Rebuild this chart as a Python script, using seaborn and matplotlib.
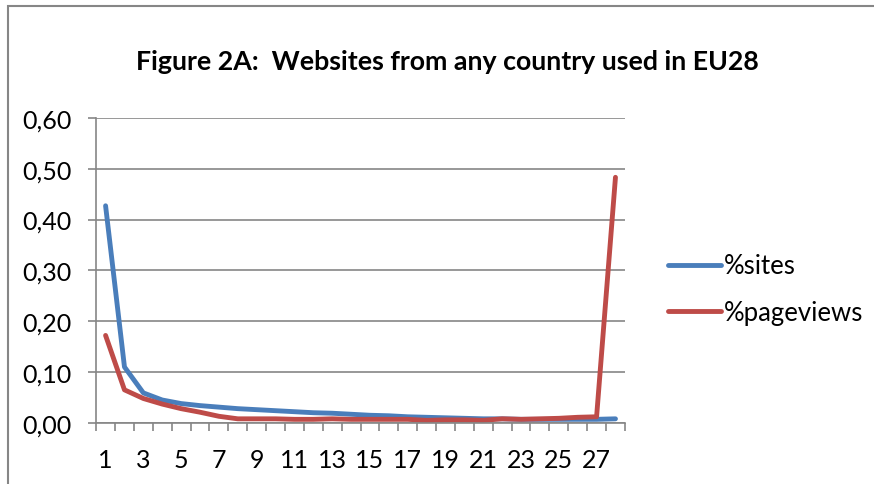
import matplotlib
matplotlib.use("Agg")
import matplotlib.pyplot as plt
import seaborn as sns
import pandas as pd
from matplotlib.patches import Rectangle
from matplotlib.lines import Line2D
from matplotlib.ticker import FuncFormatter

categories = list(range(1, 29))
sites = [0.427, 0.110, 0.059, 0.045, 0.038, 0.034, 0.031, 0.028, 0.026, 0.024,
         0.022, 0.020, 0.019, 0.017, 0.015, 0.014, 0.012, 0.011, 0.010, 0.009,
         0.008, 0.008, 0.007, 0.007, 0.007, 0.007, 0.007, 0.008]
pageviews = [0.172, 0.065, 0.048, 0.037, 0.028, 0.021, 0.013, 0.008, 0.008, 0.008,
             0.007, 0.007, 0.008, 0.007, 0.007, 0.007, 0.007, 0.005, 0.006, 0.006,
             0.005, 0.008, 0.007, 0.008, 0.009, 0.011, 0.012, 0.483]
series_names = ["%sites", "%pageviews"]
title = "Figure 2A:  Websites from any country used in EU28"

df = pd.DataFrame({
    "cat": categories * 2,
    "value": sites + pageviews,
    "series": [series_names[0]] * len(categories) + [series_names[1]] * len(categories),
})

sns.set_theme(style="white")
plt.rcParams["font.family"] = ["Lato", "DejaVu Sans"]
plt.rcParams["text.color"] = "black"
plt.rcParams["xtick.labelcolor"] = "black"
plt.rcParams["ytick.labelcolor"] = "black"

fig = plt.figure(figsize=(8.74, 4.85), dpi=100)
ax = fig.add_axes([0.110, 0.126, 0.605, 0.629])
palette = {series_names[0]: "#4A7EBB", series_names[1]: "#BE4B48"}
lw = 3.5
sns.lineplot(data=df, x="cat", y="value", hue="series", palette=palette, ax=ax,
             linewidth=lw, legend=False, solid_capstyle="round", solid_joinstyle="round")

ax.set_xlim(0.5, 28.5)
ax.set_ylim(0, 0.6)
ax.set_yticks([0, 0.1, 0.2, 0.3, 0.4, 0.5, 0.6])
ax.yaxis.set_major_formatter(FuncFormatter(lambda v, p: f"{v:.2f}".replace(".", ",")))
ax.set_xticks(categories[::2])
ax.set_xticklabels([str(c) for c in categories[::2]])
ax.set_xticks([c + 0.5 for c in range(0, 29)], minor=True)
ax.tick_params(axis="x", which="major", length=0, labelsize=18, pad=18, labelcolor="black")
ax.tick_params(axis="x", which="minor", length=6, width=1.2, color="#868686", direction="out", bottom=True)
ax.tick_params(axis="y", which="major", length=6, width=1.2, color="#868686", direction="out",
               labelsize=18, pad=12, left=True, labelcolor="black")
ax.set_xlabel("")
ax.set_ylabel("")
ax.yaxis.grid(True, color="#868686", linewidth=1.2)
ax.xaxis.grid(False)
ax.set_axisbelow(True)
for s in ["top", "right"]:
    ax.spines[s].set_visible(False)
for s in ["left", "bottom"]:
    ax.spines[s].set_color("#868686")
    ax.spines[s].set_linewidth(1.2)

fig.text(0.512, 0.872, title, ha="center", va="center", fontsize=19.3, fontweight="bold",
         color="black")

handles = [Line2D([], [], color=palette[n], linewidth=lw, solid_capstyle="round") for n in series_names]
fig.legend(handles, series_names, loc="center left", bbox_to_anchor=(0.753, 0.402),
           frameon=False, fontsize=18.5, handlelength=2.05, handletextpad=0.12, labelspacing=0.82,
           borderaxespad=0, labelcolor="black")

fig.patches.append(Rectangle((7.5 / 874, -0.1), 1.2, 1.1 - 6.5 / 485, transform=fig.transFigure,
                             fill=False, edgecolor="#868686", linewidth=1.5, clip_on=False))
fig.savefig("out.png", dpi=100, facecolor="white")
